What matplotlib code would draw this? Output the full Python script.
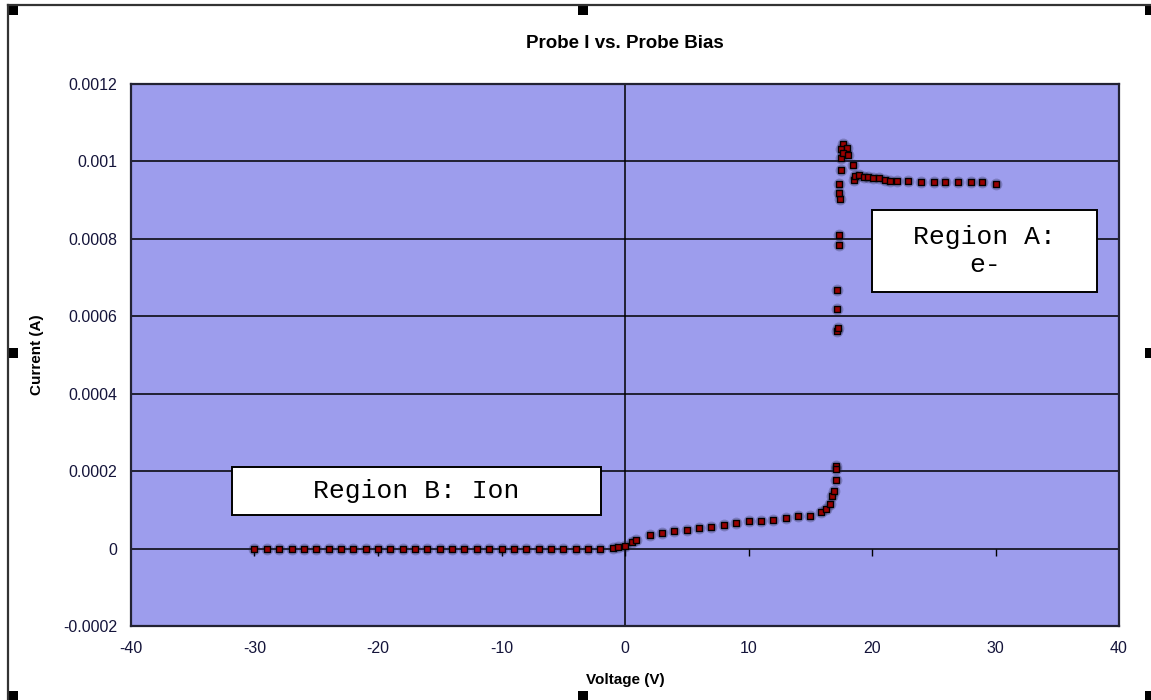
#!/usr/bin/env python3
import matplotlib
matplotlib.use("Agg")
import matplotlib.pyplot as plt
from matplotlib.patches import Rectangle
from matplotlib.lines import Line2D
from matplotlib.markers import TICKDOWN
import numpy as np

# Probe sweep: bias voltage (V) and probe current (A)
volts_ion = [-30, -29, -28, -27, -26, -25, -24, -23, -22, -21, -20, -19, -18, -17,
             -16, -15, -14, -13, -12, -11, -10, -9, -8, -7, -6, -5, -4, -3, -2]
amps_ion = [0.0] * len(volts_ion)

volts_knee = [-0.95, -0.54, 0.0, 0.54, 0.89, 2.0, 3.0, 4.0, 5.0, 6.0, 7.0, 8.0, 9.0,
              10.0, 11.0, 12.0, 13.0, 14.0, 15.0, 15.9, 16.3, 16.6, 16.8, 16.95,
              17.05, 17.1, 17.05]
amps_knee = [1.5e-6, 3.4e-6, 7.8e-6, 1.6e-5, 2.1e-5, 3.5e-5, 4.0e-5, 4.5e-5, 4.9e-5,
             5.2e-5, 5.7e-5, 6.1e-5, 6.6e-5, 7.1e-5, 7.1e-5, 7.5e-5, 7.9e-5, 8.3e-5,
             8.3e-5, 9.4e-5, 1.03e-4, 1.14e-4, 1.35e-4, 1.48e-4, 1.78e-4, 2.13e-4,
             2.05e-4]

volts_jump = [17.2, 17.25, 17.2, 17.2, 17.35, 17.35, 17.4, 17.35, 17.35, 17.46,
              17.5, 17.68, 17.5, 17.95, 17.68, 18.08, 18.43]
amps_jump = [5.63e-4, 5.70e-4, 6.19e-4, 6.67e-4, 7.83e-4, 8.11e-4, 9.02e-4, 9.19e-4,
             9.42e-4, 9.79e-4, 1.010e-3, 1.044e-3, 1.031e-3, 1.035e-3, 1.022e-3,
             1.016e-3, 9.90e-4]

volts_sat = [18.54, 18.62, 18.97, 19.35, 19.7, 20.1, 20.6, 21.05, 21.46, 22.0, 22.9,
             24.0, 25.0, 25.9, 27.0, 28.0, 28.9, 30.0]
amps_sat = [9.51e-4, 9.62e-4, 9.64e-4, 9.59e-4, 9.59e-4, 9.56e-4, 9.56e-4, 9.53e-4,
            9.49e-4, 9.49e-4, 9.49e-4, 9.46e-4, 9.46e-4, 9.46e-4, 9.46e-4, 9.46e-4,
            9.46e-4, 9.42e-4]

x_ticks = [-40, -30, -20, -10, 0, 10, 20, 30, 40]
y_ticks = [-0.0002, 0, 0.0002, 0.0004, 0.0006, 0.0008, 0.001, 0.0012]
y_tick_labels = ["-0.0002", "0", "0.0002", "0.0004", "0.0006", "0.0008", "0.001", "0.0012"]

W, H = 1151, 700
plt.rcParams["font.family"] = ["Liberation Sans", "DejaVu Sans"]
plt.rcParams["axes.unicode_minus"] = False

fig = plt.figure(figsize=(W / 100, H / 100), dpi=100, facecolor="white")
ax = fig.add_axes([131 / W, (H - 626) / H, 988 / W, 542 / H])
ax.set_facecolor("#9d9ded")

volts = np.array(volts_ion + volts_knee + volts_jump + volts_sat)
amps = np.array(amps_ion + amps_knee + amps_jump + amps_sat)

ax.set_xlim(-40, 40)
ax.set_ylim(-0.0002, 0.0012)
ax.set_xticks(x_ticks)
ax.set_yticks(y_ticks)
ax.set_yticklabels(y_tick_labels)
ax.tick_params(length=0, labelsize=11.5, colors="#14143a")
ax.tick_params(axis="y", pad=10)
ax.tick_params(axis="x", pad=11)

# Excel-style gridlines and axis crossing at zero
for yv in y_ticks[1:-1]:
    ax.axhline(yv, color="black", linewidth=1.1, zorder=1)
ax.axvline(0, color="black", linewidth=1.1, zorder=1)
ax.plot(x_ticks[1:-1], [0] * (len(x_ticks) - 2), linestyle="none",
        marker=TICKDOWN, markersize=5, color="black", zorder=1)
for s in ax.spines.values():
    s.set_color("#222233")
    s.set_linewidth(1.6)

# soft shadow then markers
ax.plot(volts, amps, linestyle="none", marker="o", markersize=8.5,
        color="#202040", alpha=0.28, markeredgewidth=0, zorder=2)
ax.plot(volts, amps, linestyle="none", marker="s", markersize=4.8,
        markerfacecolor="#9a0000", markeredgecolor="black",
        markeredgewidth=1.0, zorder=3)

ax.set_title("Probe I vs. Probe Bias", fontsize=13.5, fontweight="bold", pad=26)
ax.set_xlabel("Voltage (V)", fontsize=11, fontweight="bold", labelpad=12)
ax.set_ylabel("Current (A)", fontsize=11, fontweight="bold", labelpad=14)

# region labels
mono = ["Liberation Mono", "DejaVu Sans Mono"]
ax.add_patch(Rectangle((0.102, 0.205), 0.374, 0.088, transform=ax.transAxes,
                       facecolor="white", edgecolor="black", linewidth=1.4, zorder=4))
ax.text(0.289, 0.249, "Region B: Ion", transform=ax.transAxes, ha="center",
        va="center", fontsize=19, family=mono, zorder=5)
ax.add_patch(Rectangle((0.750, 0.616), 0.228, 0.152, transform=ax.transAxes,
                       facecolor="white", edgecolor="black", linewidth=1.4, zorder=4))
ax.text(0.864, 0.692, "Region A:\ne-", transform=ax.transAxes, ha="center",
        va="center", fontsize=19, family=mono, linespacing=1.2, zorder=5)

# outer frame with selection handles
def px_line(x0, y0, x1, y1):
    fig.add_artist(Line2D([x0 / W, x1 / W], [1 - y0 / H, 1 - y1 / H],
                          color="#333333", linewidth=1.6))

px_line(8, 5, W, 5)
px_line(8, 5, 8, H)
for hx, hy in [(8, 5), (578, 5), (1145, 5), (8, 348), (1145, 348),
               (8, 691), (578, 691), (1145, 691)]:
    fig.add_artist(Rectangle((hx / W, 1 - (hy + 10) / H), 10 / W, 10 / H,
                             transform=fig.transFigure, facecolor="black",
                             edgecolor="none"))

fig.savefig("out.png", dpi=100)
